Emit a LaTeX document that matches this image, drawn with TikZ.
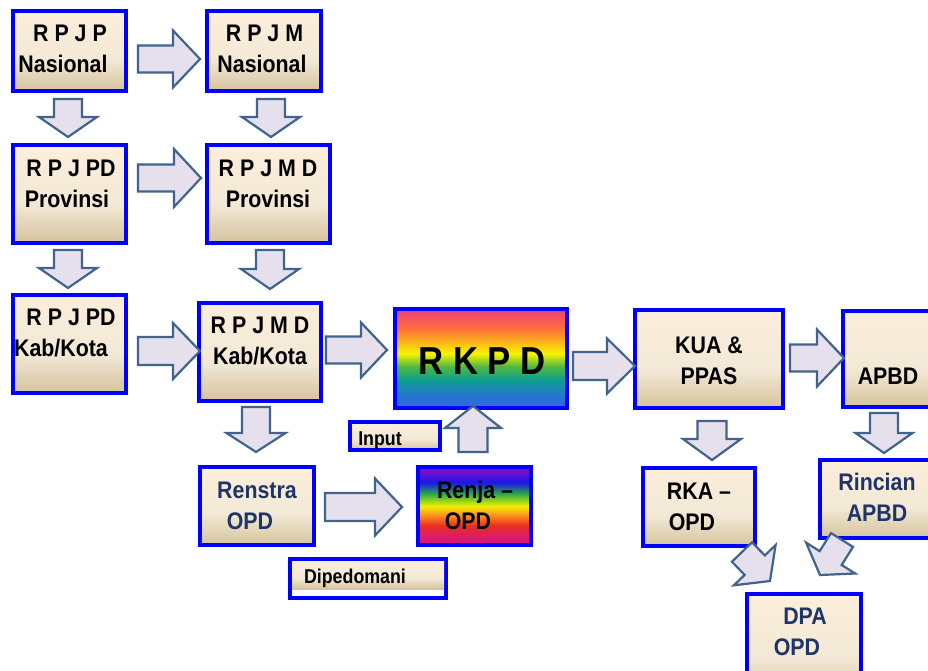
\documentclass[tikz,border=0pt]{standalone}
\usepackage{fontspec}
\setmainfont{Liberation Sans}[FakeStretch=0.89]
\usetikzlibrary{calc}
\definecolor{boxblue}{HTML}{0000FF}
\definecolor{arrfill}{HTML}{E5E0EC}
\definecolor{arrline}{HTML}{41648F}
\definecolor{navy}{HTML}{1F3469}
\definecolor{bxa}{HTML}{FCEEDA}
\definecolor{bxb}{HTML}{F2E9D6}
\definecolor{bxc}{HTML}{D6C39E}
\definecolor{rka}{HTML}{2A6ED8}
\definecolor{rkb}{HTML}{0C9E92}
\definecolor{rkc}{HTML}{50B840}
\definecolor{rkd}{HTML}{F8F400}
\definecolor{rke}{HTML}{FF6F3A}
\definecolor{rkf}{HTML}{EE3F78}
\definecolor{rja}{HTML}{7A10C8}
\definecolor{rjb}{HTML}{1818E8}
\definecolor{rjc}{HTML}{30B040}
\definecolor{rjd}{HTML}{F0F000}
\definecolor{rje}{HTML}{FF9020}
\definecolor{rjf}{HTML}{E83020}
\definecolor{rjg}{HTML}{D81878}
\pgfdeclareverticalshading{boxshade}{100bp}{color(0bp)=(bxc); color(25bp)=(bxc); color(45bp)=(bxb); color(75bp)=(bxa); color(100bp)=(bxa)}
\pgfdeclareverticalshading{rkpdshade}{100bp}{color(0bp)=(rka); color(25bp)=(rka); color(30bp)=(rka); color(39bp)=(rkb); color(46bp)=(rkc); color(52.5bp)=(rkd); color(65bp)=(rke); color(75bp)=(rkf); color(100bp)=(rkf)}
\pgfdeclareverticalshading{renjashade}{100bp}{color(0bp)=(rjg); color(25bp)=(rjg); color(29bp)=(rjg); color(37.5bp)=(rjf); color(44bp)=(rje); color(50bp)=(rjd); color(57.5bp)=(rjc); color(65bp)=(rjb); color(72.5bp)=(rja); color(100bp)=(rja)}
\tikzset{
  box/.style={draw=boxblue, line width=4pt, shade, shading=boxshade, inner sep=0pt},
  txt/.style={font=\bfseries\fontsize{24}{31}\selectfont, align=center, inner sep=0pt},
  smalltxt/.style={font=\bfseries\fontsize{20}{24}\selectfont, inner sep=0pt},
  barrow/.style={draw=arrline, fill=arrfill, line width=2.2pt, line join=miter}
}
% tail, tip, body half width, head half width, head length
\newcommand\blockarr[5]{%
  \path (#1) coordinate (ba-t) (#2) coordinate (ba-p);
  \path ($(ba-p)!#5pt!(ba-t)$) coordinate (ba-h);
  \draw[barrow] ($(ba-t)!#3pt!90:(ba-p)$) -- ($(ba-h)!#3pt!90:(ba-p)$) -- ($(ba-h)!#4pt!90:(ba-p)$) -- (ba-p)
     -- ($(ba-h)!#4pt!-90:(ba-p)$) -- ($(ba-h)!#3pt!-90:(ba-p)$) -- ($(ba-t)!#3pt!-90:(ba-p)$) -- cycle;
}
\begin{document}
\begin{tikzpicture}[x=1pt,y=1pt]
\useasboundingbox (0,0) rectangle (928,-671);
\clip (0,0) rectangle (928,-671);
\fill[white] (0,0) rectangle (928,-671);
% boxes
\node[box, minimum width=113, minimum height=80] (rpjp) at (69.5,-51) {};
\node[box, minimum width=114, minimum height=80] (rpjm) at (264,-51) {};
\node[box, minimum width=113, minimum height=98] (rpjpdp) at (69.5,-194) {};
\node[box, minimum width=123, minimum height=98] (rpjmdp) at (268.5,-194) {};
\node[box, minimum width=113, minimum height=98] (rpjpdk) at (69.5,-344) {};
\node[box, minimum width=122, minimum height=98] (rpjmdk) at (260,-352) {};
\node[box, shading=rkpdshade, minimum width=172, minimum height=99] (rkpd) at (481,-358.5) {};
\node[box, minimum width=148, minimum height=98] (kua) at (709,-359) {};
\node[box, minimum width=115, minimum height=96] (apbd) at (900.5,-359) {};
\node[box, minimum width=90, minimum height=28] (input) at (395,-436) {};
\node[box, minimum width=114, minimum height=78] (renstra) at (257,-506) {};
\node[box, shading=renjashade, minimum width=113, minimum height=78] (renja) at (474.5,-506) {};
\node[draw=boxblue, line width=4pt, fill=white, inner sep=0pt, minimum width=156, minimum height=39] (diped) at (368,-578.5) {};
\shade[shading=boxshade] (292,-561) rectangle (444,-589);
\node[box, minimum width=112, minimum height=78] (rka) at (699,-507) {};
\node[box, minimum width=138, minimum height=78] (rincian) at (889,-499) {};
\node[box, minimum width=114, minimum height=104] (dpa) at (804,-646) {};
% texts
\node[txt] (t-rpjp) at (63,-48.5) {\hspace*{14pt}R P J P\\Nasional};
\node[txt] (t-rpjm) at (262,-48.5) {\hspace*{5pt}R P J M\\Nasional};
\node[txt] (t-rpjpdp) at (67,-183.5) {\hspace*{8pt}R P J PD\\Provinsi};
\node[txt] (t-rpjmdp) at (268,-184) {R P J M D\\Provinsi};
\node[txt] (t-rpjpdk) at (61,-332.5) {\hspace*{20pt}R P J PD\\Kab/Kota};
\node[txt] (t-rpjmdk) at (260,-340.5) {R P J M D\\Kab/Kota};
\node[font=\bfseries\fontsize{39}{44}\selectfont, inner sep=0pt] (t-rkpd) at (482,-361) {R K P D};
\node[txt] (t-kua) at (709,-360.5) {KUA \&\\PPAS};
\node[txt] (t-apbd) at (888,-376) {APBD};
\node[smalltxt] (t-input) at (380,-441) {Input};
\node[txt, text=navy] (t-renstra) at (250,-505.5) {\hspace*{14pt}Renstra\\OPD};
\node[txt] (t-renja) at (468,-505.5) {\hspace*{14pt}Renja –\\OPD};
\node[smalltxt] (t-diped) at (355,-578) {Dipedomani};
\node[txt] (t-rka) at (692,-506.5) {\hspace*{14pt}RKA –\\OPD};
\node[txt, text=navy] (t-rincian) at (877,-497) {Rincian\\APBD};
\node[txt, text=navy] (t-dpa) at (797,-632) {\hspace*{16pt}DPA\\OPD};
% block arrows
\blockarr{138,-59}{200,-59}{13.5}{28.5}{27}
\blockarr{138,-178}{201,-178}{13.5}{29}{27}
\blockarr{138,-351}{200,-351}{14}{28}{27}
\blockarr{326,-350}{387,-350}{13.5}{27.5}{26}
\blockarr{573,-366}{635,-366}{14}{27.5}{28}
\blockarr{790,-358}{844,-358}{13.5}{28.5}{27}
\blockarr{325,-507}{402,-507}{14}{28.5}{27}
\blockarr{68,-99}{68,-137}{14}{29}{20}
\blockarr{271,-99}{271,-137}{14}{29}{20}
\blockarr{68,-250}{68,-288}{14}{29}{20}
\blockarr{270,-250}{270,-289}{14}{29}{20}
\blockarr{256,-407}{256,-452}{14}{29.5}{19}
\blockarr{473,-452}{473,-406}{14.5}{28}{22}
\blockarr{712,-421}{712,-460}{14.5}{29}{21}
\blockarr{884,-413}{884,-453}{14}{28.5}{20}
\blockarr{742,-552}{770,-581}{14}{29}{22}
\blockarr{842,-540}{820,-575}{13}{29}{20}
\end{tikzpicture}
\end{document}
